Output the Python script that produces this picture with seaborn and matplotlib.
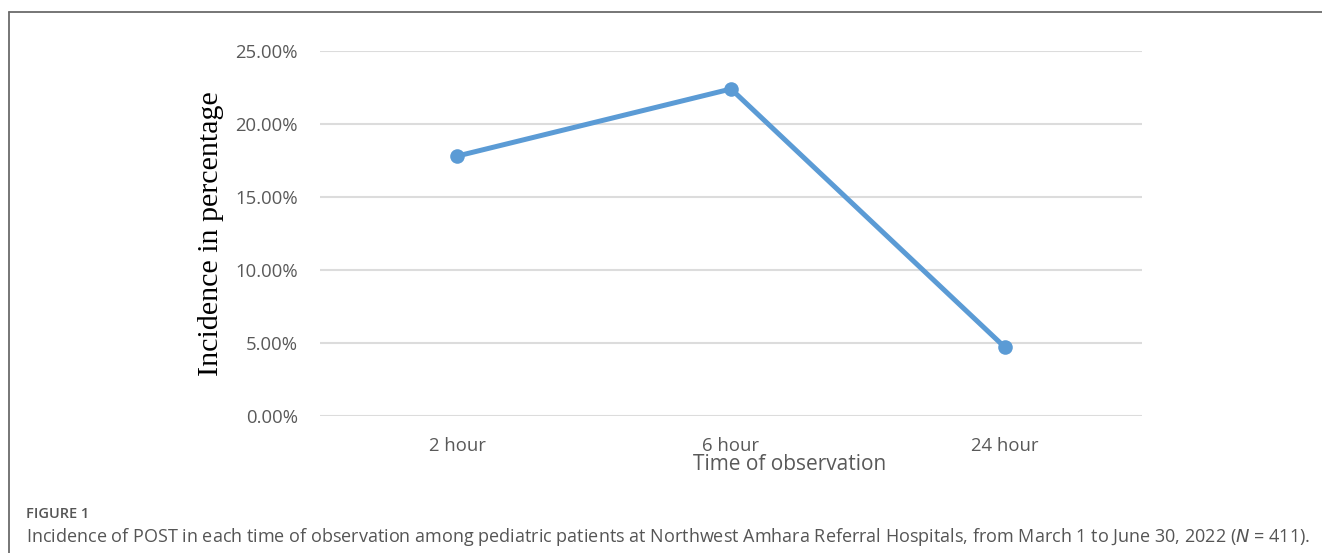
import matplotlib
matplotlib.use("Agg")
import matplotlib.pyplot as plt
import seaborn as sns
import pandas as pd
from matplotlib.lines import Line2D
from matplotlib.ticker import FuncFormatter

# Data
times = ["2 hour", "6 hour", "24 hour"]
incidence = [0.178, 0.224, 0.047]
y_ticks = [0.0, 0.05, 0.10, 0.15, 0.20, 0.25]

df = pd.DataFrame({"time": times, "incidence": incidence})

sns.set_theme(style="white")
plt.rcParams["font.family"] = ["Open Sans", "DejaVu Sans"]

W, H = 1322, 553
fig = plt.figure(figsize=(W / 100, H / 100), dpi=100)
ax = fig.add_axes([320 / W, 1 - 416 / H, (1142 - 320) / W, (416 - 51) / H])

sns.lineplot(data=df, x="time", y="incidence", ax=ax, color="#5B9BD5",
             linewidth=3.6, marker="o", markersize=10.5, markeredgewidth=0,
             sort=False)

ax.set_xlim(-0.5, 2.5)
ax.set_ylim(0, 0.25)
ax.set_yticks(y_ticks)
ax.yaxis.set_major_formatter(FuncFormatter(lambda v, p: f"{v*100:.2f}%"))
ax.grid(axis="y", color="#dcdcdc", linewidth=1.5)
ax.set_axisbelow(True)
for s in ax.spines.values():
    s.set_visible(False)
ax.tick_params(axis="both", length=0, labelsize=13.3, labelcolor="#595959")
ax.tick_params(axis="y", pad=16)
ax.tick_params(axis="x", pad=15)
ax.set_xlabel("")
ax.set_ylabel("")

fig.text(790 / W, 1 - 465 / H, "Time of observation", ha="center", va="center",
         fontsize=15, color="#595959")
fig.text(211 / W, 1 - 234 / H, "Incidence in percentage", ha="center", va="center",
         rotation=90, fontsize=21.6, color="#000000", family="Liberation Serif")

# Frame (left and top)
fig.add_artist(Line2D([9 / W, 9 / W], [0, 1 - 12 / H], transform=fig.transFigure,
                      color="#6b6b6b", linewidth=1.3))
fig.add_artist(Line2D([9 / W, 1], [1 - 12 / H, 1 - 12 / H], transform=fig.transFigure,
                      color="#6b6b6b", linewidth=1.3))

fig.text(26 / W, 1 - 514 / H, "FIGURE 1", ha="left", va="center",
         fontsize=10.5, color="#555555", fontweight="semibold")
fig.text(26 / W, 1 - 537 / H,
         "Incidence of POST in each time of observation among pediatric patients at Northwest Amhara Referral Hospitals, from March 1 to June 30, 2022 ($\\it{N}$ = 411).",
         ha="left", va="center", fontsize=12.95, color="#555555")

fig.savefig("out.png", dpi=100)
